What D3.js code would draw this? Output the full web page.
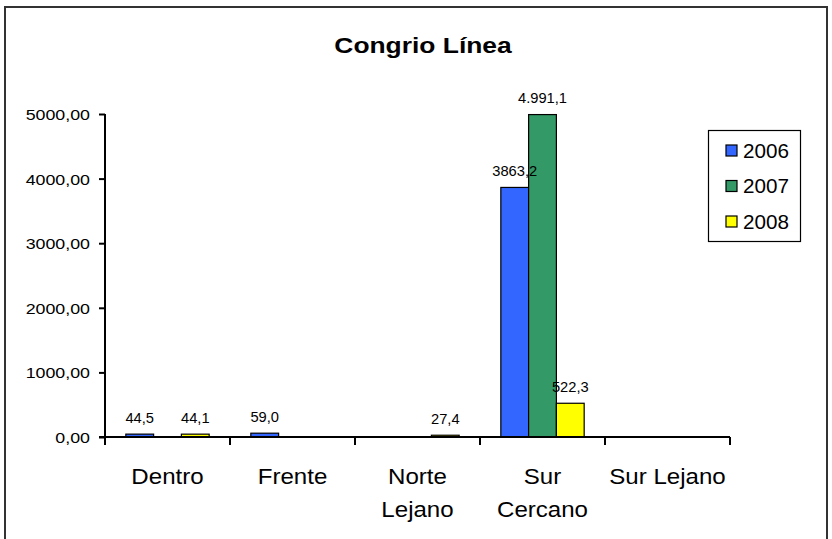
<!DOCTYPE html>
<html>
<head>
<meta charset="utf-8">
<script src="https://cdn.jsdelivr.net/npm/d3@7"></script>
<style>
  body { margin: 0; background: #fff; }
  svg { display: block; font-family: "Liberation Sans", Arial, sans-serif; }
</style>
</head>
<body>
<div id="chart"></div>
<script>
// data
const categories = ['Dentro', 'Frente', 'Norte Lejano', 'Sur Cercano', 'Sur Lejano'];
const categoryLines = [['Dentro'], ['Frente'], ['Norte', 'Lejano'], ['Sur', 'Cercano'], ['Sur Lejano']];
const years = ['2006', '2007', '2008'];
const values2006 = [44.5, 59.0, 0, 3863.2, 0];
const values2007 = [0, 0, 0, 4991.1, 0];
const values2008 = [44.1, 0, 27.4, 522.3, 0];
const labels2006 = ['44,5', '59,0', '', '3863,2', ''];
const labels2007 = ['', '', '', '4.991,1', ''];
const labels2008 = ['44,1', '', '27,4', '522,3', ''];
const yTicks = [0, 1000, 2000, 3000, 4000, 5000];
const colors = ['#3366ff', '#339966', '#ffff00'];

const seriesValues = [values2006, values2007, values2008];
const seriesLabels = [labels2006, labels2007, labels2008];

const W = 832, H = 539;
const svg = d3.select('#chart').append('svg')
    .attr('width', W)
    .attr('height', H);

// outer chart frame
svg.append('rect')
    .attr('x', 5).attr('y', 7)
    .attr('width', 822).attr('height', 545)
    .attr('fill', '#fff')
    .attr('stroke', '#333')
    .attr('stroke-width', 2);

const x = d3.scaleBand()
    .domain(categories)
    .range([105, 730]);

const xSub = d3.scaleBand()
    .domain(years)
    .range([0, x.bandwidth()])
    .paddingOuter(0.75);

const y = d3.scaleLinear()
    .domain([0, 5000])
    .range([437, 114]);

// horizontally stretched text, like the original picture
function stretchedText(parent, px, py, str, size, sx, anchor, weight) {
    return parent.append('text')
        .attr('transform', `translate(${px},${py}) scale(${sx},1)`)
        .attr('text-anchor', anchor)
        .style('font-size', size + 'px')
        .style('font-weight', weight || 'normal')
        .attr('fill', '#000')
        .text(str);
}

// title
stretchedText(svg, 423, 53, 'Congrio Línea', 22, 1.2, 'middle', 'bold');

// y axis
const sxY = 1.15;
const yAxis = svg.append('g')
    .attr('transform', 'translate(105,0)')
    .call(d3.axisLeft(y).tickValues(yTicks).tickSize(6).tickPadding(9)
        .tickFormat(d => d3.format('.2f')(d).replace('.', ',')));
yAxis.select('.domain').remove();
yAxis.selectAll('.tick line').attr('stroke', '#000').attr('stroke-width', 2);
yAxis.selectAll('.tick text')
    .attr('x', -15 / sxY)
    .attr('dy', '0.36em')
    .attr('transform', `scale(${sxY},1)`)
    .attr('fill', '#000')
    .style('font-size', '15.5px')
    .style('font-family', '"Liberation Sans", Arial, sans-serif');

// bars
seriesValues.forEach((vals, si) => {
    const g = svg.append('g');
    categories.forEach((c, ci) => {
        const v = vals[ci];
        if (!v) return;
        g.append('rect')
            .attr('x', x(c) + xSub(years[si]))
            .attr('y', y(v))
            .attr('width', xSub.bandwidth())
            .attr('height', y(0) - y(v))
            .attr('fill', colors[si])
            .attr('stroke', '#000')
            .attr('stroke-width', 1.2);
    });
});

// y axis line and x axis with ticks at band edges
svg.append('line')
    .attr('x1', 105).attr('x2', 105)
    .attr('y1', y(5000)).attr('y2', 445)
    .attr('stroke', '#000').attr('stroke-width', 2);
svg.append('line')
    .attr('x1', 99).attr('x2', x.range()[1])
    .attr('y1', y(0)).attr('y2', y(0))
    .attr('stroke', '#000').attr('stroke-width', 2);
const edges = categories.map(c => x(c)).concat([x.range()[1]]);
svg.selectAll('.xtick')
    .data(edges)
    .enter()
    .append('line')
    .attr('class', 'xtick')
    .attr('x1', d => d).attr('x2', d => d)
    .attr('y1', y(0)).attr('y2', y(0) + 8)
    .attr('stroke', '#000').attr('stroke-width', 2);

// category labels
categoryLines.forEach((lines, ci) => {
    const cx = x(categories[ci]) + x.bandwidth() / 2;
    lines.forEach((line, li) => {
        stretchedText(svg, cx, 484 + li * 32.5, line, 22.5, 1.07, 'middle');
    });
});

// data labels
seriesLabels.forEach((labs, si) => {
    categories.forEach((c, ci) => {
        if (!labs[ci]) return;
        const cx = x(c) + xSub(years[si]) + xSub.bandwidth() / 2;
        stretchedText(svg, cx, y(seriesValues[si][ci]) - 11.5, labs[ci], 14, 1.05, 'middle');
    });
});

// legend
const legend = svg.append('g');
legend.append('rect')
    .attr('x', 708.5).attr('y', 130.5)
    .attr('width', 92).attr('height', 111)
    .attr('fill', '#fff')
    .attr('stroke', '#000')
    .attr('stroke-width', 1.2);
years.forEach((yr, i) => {
    const cy = 150.5 + i * 35.5;
    legend.append('rect')
        .attr('x', 726).attr('y', cy - 5.5)
        .attr('width', 11).attr('height', 11)
        .attr('fill', colors[i])
        .attr('stroke', '#000')
        .attr('stroke-width', 1.2);
    stretchedText(legend, 743, cy + 7, yr, 19.5, 1.06, 'start');
});
</script>
</body>
</html>
